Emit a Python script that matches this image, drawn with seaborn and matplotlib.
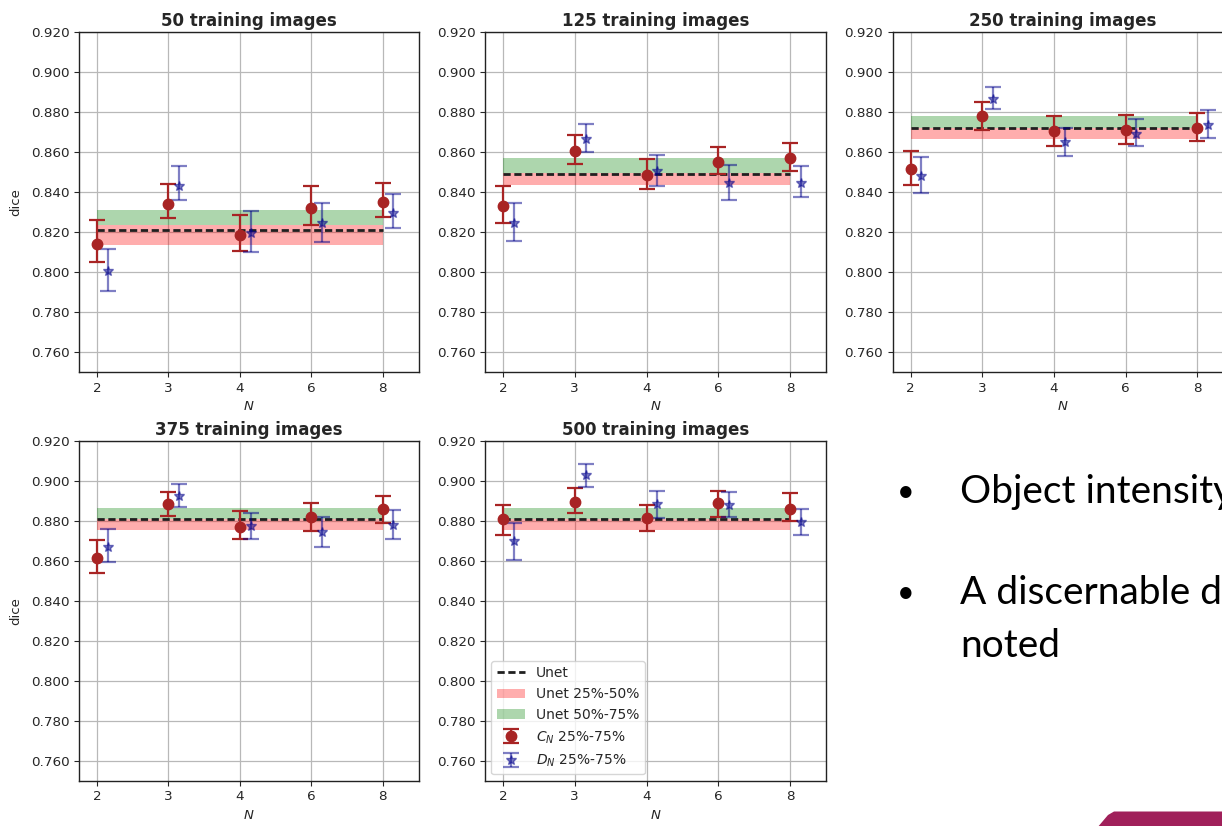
import numpy as np
import matplotlib
matplotlib.use("Agg")
import matplotlib.pyplot as plt
from matplotlib.patches import Polygon, Patch
from matplotlib.lines import Line2D
import seaborn as sns

# ---------------- data ----------------
n_labels = ["2", "3", "4", "6", "8"]
titles = ["50 training images", "125 training images", "250 training images",
          "375 training images", "500 training images"]

unet_line = [0.8210, 0.8488, 0.8720, 0.8808, 0.8810]
unet_q25 = [0.8135, 0.8433, 0.8667, 0.8755, 0.8755]
unet_q50 = [0.8233, 0.8495, 0.8722, 0.8808, 0.8808]
unet_q75 = [0.8311, 0.8570, 0.8780, 0.8863, 0.8863]

c_med = [[0.8139, 0.8342, 0.8187, 0.8322, 0.8348],
         [0.8332, 0.8605, 0.8484, 0.8550, 0.8572],
         [0.8517, 0.8780, 0.8703, 0.8712, 0.8718],
         [0.8613, 0.8882, 0.8770, 0.8820, 0.8858],
         [0.8807, 0.8896, 0.8812, 0.8889, 0.8860]]
c_q25 = [[0.8049, 0.8272, 0.8105, 0.8233, 0.8274],
         [0.8245, 0.8539, 0.8415, 0.8488, 0.8504],
         [0.8437, 0.8712, 0.8628, 0.8642, 0.8657],
         [0.8537, 0.8825, 0.8708, 0.8750, 0.8790],
         [0.8730, 0.8840, 0.8750, 0.8817, 0.8800]]
c_q75 = [[0.8261, 0.8439, 0.8287, 0.8430, 0.8445],
         [0.8430, 0.8683, 0.8564, 0.8626, 0.8646],
         [0.8607, 0.8848, 0.8778, 0.8787, 0.8793],
         [0.8702, 0.8943, 0.8848, 0.8887, 0.8922],
         [0.8880, 0.8965, 0.8880, 0.8951, 0.8937]]

d_med = [[0.8004, 0.8431, 0.8197, 0.8243, 0.8295],
         [0.8246, 0.8663, 0.8506, 0.8446, 0.8446],
         [0.8480, 0.8865, 0.8652, 0.8692, 0.8733],
         [0.8670, 0.8925, 0.8773, 0.8745, 0.8780],
         [0.8697, 0.9030, 0.8884, 0.8879, 0.8795]]
d_q25 = [[0.7907, 0.8359, 0.8098, 0.8152, 0.8220],
         [0.8157, 0.8598, 0.8428, 0.8360, 0.8374],
         [0.8395, 0.8815, 0.8580, 0.8628, 0.8672],
         [0.8592, 0.8867, 0.8708, 0.8670, 0.8710],
         [0.8605, 0.8971, 0.8812, 0.8817, 0.8730]]
d_q75 = [[0.8113, 0.8531, 0.8307, 0.8343, 0.8389],
         [0.8347, 0.8742, 0.8585, 0.8537, 0.8532],
         [0.8573, 0.8923, 0.8722, 0.8767, 0.8808],
         [0.8757, 0.8985, 0.8840, 0.8820, 0.8855],
         [0.8790, 0.9083, 0.8951, 0.8945, 0.8860]]

yticks = [0.760, 0.780, 0.800, 0.820, 0.840, 0.860, 0.880, 0.900, 0.920]
bullets = ["Object intensity", "A discernable difference", "noted"]

# ---------------- style ----------------
sns.set_style("ticks")
plt.rcParams["font.family"] = ["DejaVu Sans"]

W, H = 1222, 826
fig = plt.figure(figsize=(W / 100, H / 100), dpi=100)

def px_rect(left, top, right, bottom):
    return [left / W, (H - bottom) / H, (right - left) / W, (bottom - top) / H]

rects = [px_rect(79, 32, 418.5, 372),
         px_rect(485, 32, 826, 372),
         px_rect(892.7, 32, 1233, 372),
         px_rect(79, 440.7, 418.5, 780.7),
         px_rect(485, 440.7, 826, 780.7)]

red_c = "#a82424"
blue_c = "darkblue"
offset = 0.15
xpos = np.arange(len(n_labels))

for i, r in enumerate(rects):
    ax = fig.add_axes(r)
    ax.grid(True, color="#b8b8b8", lw=0.9)
    ax.set_axisbelow(True)
    ax.fill_between([0, 4], [unet_q25[i]] * 2, [unet_q50[i]] * 2,
                    color="red", alpha=0.32, lw=0)
    ax.fill_between([0, 4], [unet_q50[i]] * 2, [unet_q75[i]] * 2,
                    color="green", alpha=0.32, lw=0)
    sns.lineplot(x=[0, 4], y=[unet_line[i]] * 2, color="#202020", lw=2.0,
                 linestyle=(0, (2.6, 1.3)), ax=ax)
    cm = np.array(c_med[i]); cl = np.array(c_q25[i]); ch = np.array(c_q75[i])
    ax.errorbar(xpos, cm, yerr=[cm - cl, ch - cm], fmt="o", color=red_c,
                ms=7.5, capsize=5.5, elinewidth=1.6, capthick=1.6)
    dm = np.array(d_med[i]); dl = np.array(d_q25[i]); dh = np.array(d_q75[i])
    ax.errorbar(xpos + offset, dm, yerr=[dm - dl, dh - dm], fmt="*", color=blue_c,
                alpha=0.5, ms=7.5, capsize=5.5, elinewidth=1.6, capthick=1.6)
    ax.set_xlim(-0.25, 4.5)
    ax.set_ylim(0.75, 0.92)
    ax.set_xticks(xpos)
    ax.set_xticklabels(n_labels)
    ax.set_yticks(yticks)
    ax.set_yticklabels([f"{v:.3f}" for v in yticks])
    ax.tick_params(labelsize=9.7, length=3.5, width=0.8, colors="#262626")
    for s in ax.spines.values():
        s.set_color("#222222")
        s.set_linewidth(1.0)
    ax.set_title(titles[i], fontsize=12, fontweight="bold", pad=4)
    ax.set_xlabel("$N$", fontsize=9.5, labelpad=4)
    if i in (0, 3):
        ax.set_ylabel("dice", fontsize=9.5, labelpad=6)
    if i == 4:
        handles = [
            Line2D([], [], color="#202020", lw=2.0, linestyle=(0, (2.6, 1.3))),
            Patch(facecolor="red", alpha=0.32, lw=0),
            Patch(facecolor="green", alpha=0.32, lw=0),
            ax.containers[0],
            ax.containers[1],
        ]
        labels = ["Unet", "Unet 25%-50%", "Unet 50%-75%",
                  "$C_N$ 25%-75%", "$D_N$ 25%-75%"]
        leg = ax.legend(handles, labels, loc="lower left", fontsize=10,
                        frameon=True, borderaxespad=0.45)
        leg.get_frame().set_edgecolor("#cccccc")

# ---------------- slide text ----------------
tfont = dict(family=["Lato", "DejaVu Sans"], fontsize=28, color="black",
             va="center", ha="left")
fig.text(906 / W, 1 - 492 / H, "\u2022", **{**tfont, "ha": "center", "fontsize": 22})
fig.text(960 / W, 1 - 492 / H, bullets[0], **tfont)
fig.text(906 / W, 1 - 593 / H, "\u2022", **{**tfont, "ha": "center", "fontsize": 22})
fig.text(960 / W, 1 - 593 / H, bullets[1], **tfont)
fig.text(960 / W, 1 - 646 / H, bullets[2], **tfont)

# decorative slide shape bottom-right
pts = [(1097, 828), (1108, 815), (1114, 811.5), (1230, 811.5), (1230, 828)]
shape = Polygon([(x / W, 1 - y / H) for x, y in pts], closed=True,
                transform=fig.transFigure, facecolor="#a0205a", edgecolor="none")
fig.patches.append(shape)

fig.savefig("out.png", dpi=100)
